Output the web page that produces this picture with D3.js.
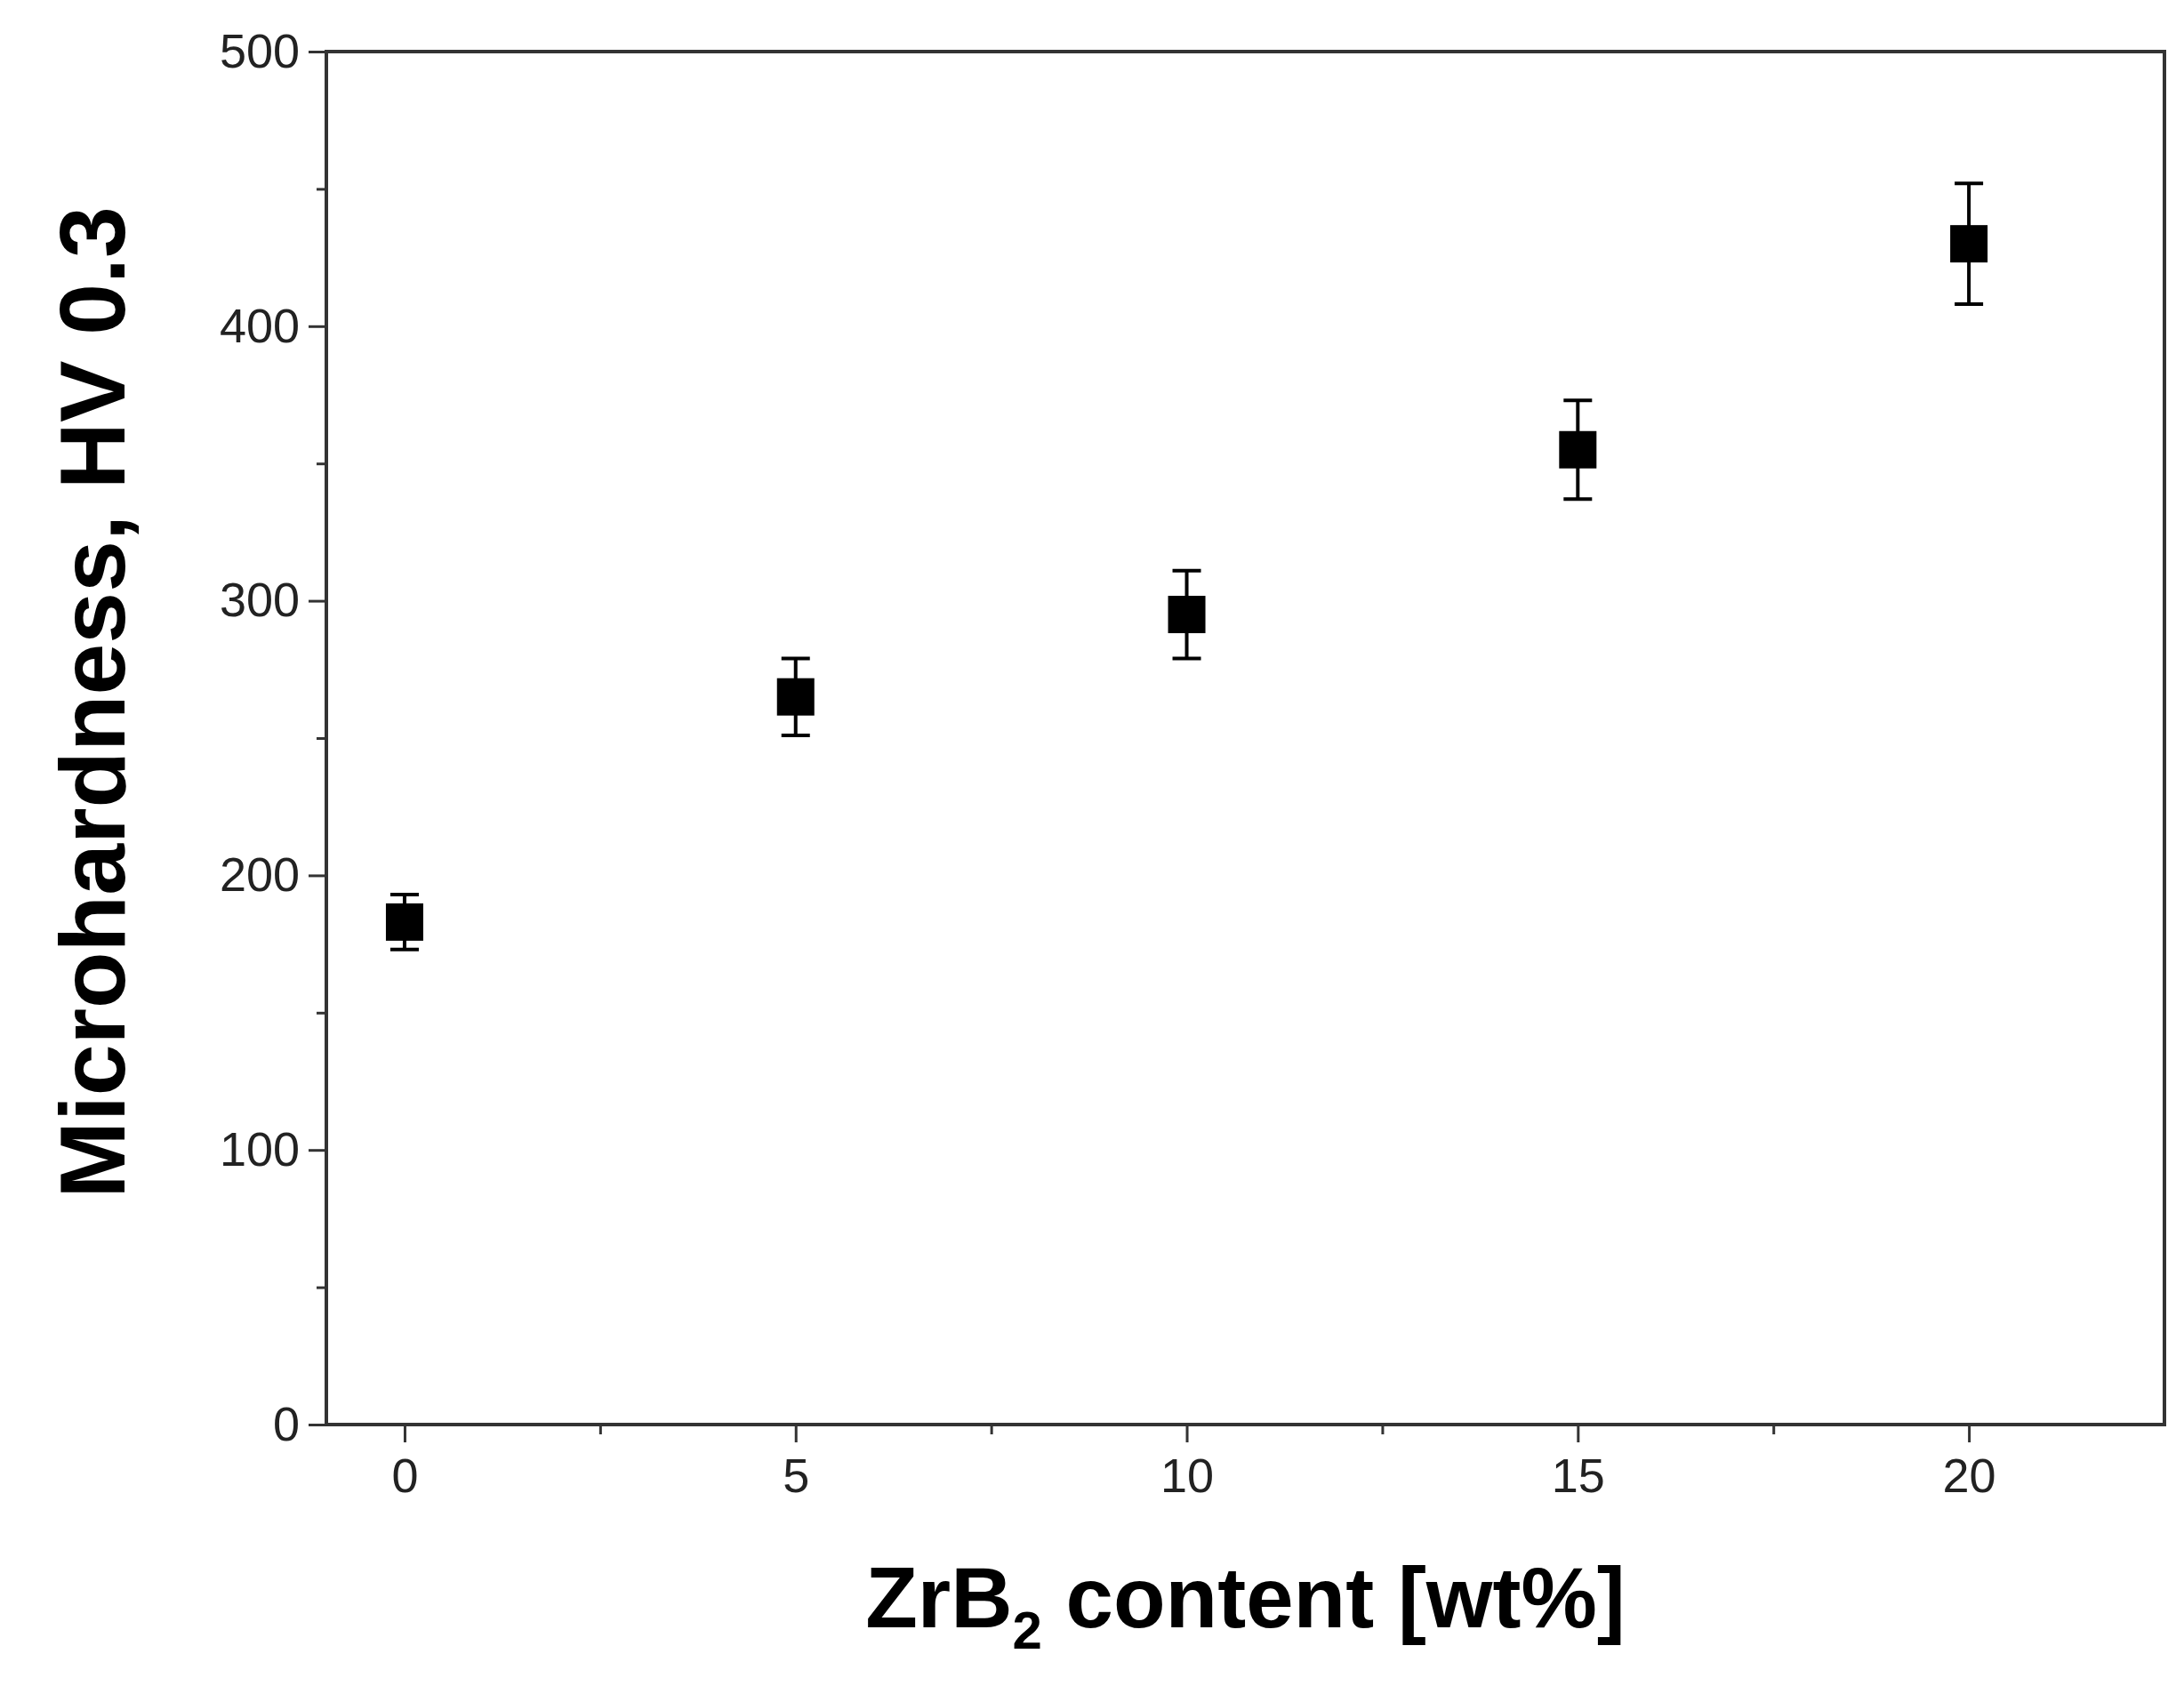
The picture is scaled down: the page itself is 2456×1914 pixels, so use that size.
<!DOCTYPE html>
<html><head><meta charset="utf-8">
<script src="https://cdn.jsdelivr.net/npm/d3@7"></script>
<style>body{margin:0;background:#fff}</style>
</head><body><div id="chart"></div>
<script>
// data
const content = [0, 5, 10, 15, 20];
const hardness = [183, 265, 295, 355, 430];
const hardnessErr = [10, 14, 16, 18, 22];
const xTicks = [0, 5, 10, 15, 20];
const yTicks = [0, 100, 200, 300, 400, 500];

const W = 2456, H = 1914;
const m = {left: 367, right: 22, top: 58, bottom: 312};

const svg = d3.select("#chart").append("svg").attr("width", W).attr("height", H);

const x = d3.scaleLinear().domain([-1, 22.5]).range([m.left, W - m.right]);
const y = d3.scaleLinear().domain([0, 500]).range([H - m.bottom, m.top]);

// frame
svg.append("rect")
    .attr("x", m.left).attr("y", m.top)
    .attr("width", W - m.right - m.left).attr("height", H - m.bottom - m.top)
    .attr("fill", "none").attr("stroke", "#333").attr("stroke-width", 4);

svg.append("g").attr("transform", `translate(0,${H - m.bottom})`)
    .call(d3.axisBottom(x).tickValues(xTicks).tickSize(20).tickPadding(18).tickFormat(d3.format("d")));
svg.append("g").attr("transform", `translate(0,${H - m.bottom})`)
    .call(d3.axisBottom(x).tickValues([2.5, 7.5, 12.5, 17.5]).tickSize(11).tickFormat(""));
svg.append("g").attr("transform", `translate(${m.left},0)`)
    .call(d3.axisLeft(y).tickValues(yTicks).tickSize(20).tickPadding(10));
svg.append("g").attr("transform", `translate(${m.left},0)`)
    .call(d3.axisLeft(y).tickValues([50, 150, 250, 350, 450]).tickSize(11).tickFormat(""));

svg.selectAll(".domain").remove();
svg.selectAll(".tick line").attr("stroke", "#333").attr("stroke-width", 3);
svg.selectAll(".tick text").style("font-family", "Arial, 'Liberation Sans', sans-serif")
    .style("font-size", "54px").attr("fill", "#222");

const pts = content.map((c, i) => ({x: c, y: hardness[i], e: hardnessErr[i]}));
const g = svg.append("g");
const cap = 16;
pts.forEach(d => {
    const cx = x(d.x);
    g.append("line").attr("x1", cx).attr("x2", cx).attr("y1", y(d.y - d.e)).attr("y2", y(d.y + d.e))
        .attr("stroke", "#000").attr("stroke-width", 4);
    [d.y - d.e, d.y + d.e].forEach(v => g.append("line")
        .attr("x1", cx - cap).attr("x2", cx + cap).attr("y1", y(v)).attr("y2", y(v))
        .attr("stroke", "#000").attr("stroke-width", 4));
    g.append("rect").attr("x", cx - 21).attr("y", y(d.y) - 21).attr("width", 42).attr("height", 42).attr("fill", "#000");
});

// axis titles
const xt = svg.append("text").attr("x", (m.left + W - m.right) / 2).attr("y", 1830)
    .attr("text-anchor", "middle").style("font-family", "Arial, 'Liberation Sans', sans-serif")
    .style("font-size", "96px").style("font-weight", "bold");
xt.append("tspan").text("ZrB");
xt.append("tspan").text("2").style("font-size", "60px").attr("dy", 24);
xt.append("tspan").text(" content [wt%]").attr("dy", -24);

svg.append("text").attr("transform", `translate(140,${(m.top + H - m.bottom) / 2 - 40}) rotate(-90)`)
    .attr("text-anchor", "middle").style("font-family", "Arial, 'Liberation Sans', sans-serif")
    .style("font-size", "104px").style("font-weight", "bold")
    .text("Microhardness, HV 0.3");
</script></body></html>
